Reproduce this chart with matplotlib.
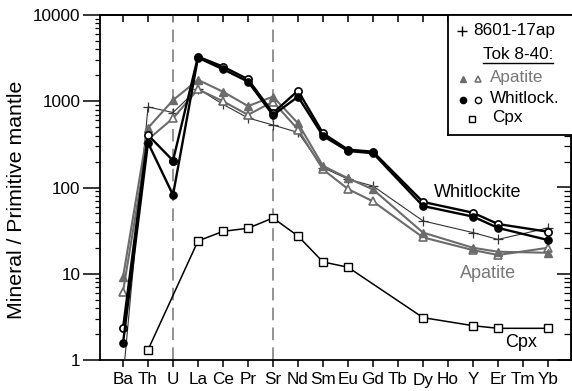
import numpy as np
import matplotlib
matplotlib.use('Agg')
import matplotlib.pyplot as plt
from matplotlib.ticker import FuncFormatter, NullFormatter, LogLocator

plt.rcParams['font.family'] = ['Liberation Sans', 'DejaVu Sans']

nan = np.nan
elements = ['Ba', 'Th', 'U', 'La', 'Ce', 'Pr', 'Sr', 'Nd', 'Sm', 'Eu', 'Gd', 'Tb',
            'Dy', 'Ho', 'Y', 'Er', 'Tm', 'Yb']
s8601_17ap = [0.6, 860, 740, 1400, 920, 640, 530, 435, 170, 125, 104, nan,
              41, nan, 30, 25, nan, 34]
apatite_filled = [9.1, 490, 1030, 1770, 1290, 880, 1130, 555, 178, 128, 95, nan,
                  30, nan, 20, 18, nan, 17.5]
apatite_open = [6.2, 360, 635, 1375, 1000, 695, 990, 470, 162, 96, 69, nan,
                26.4, nan, 18.8, 16.5, nan, 20]
whitlock_filled = [1.56, 330, 82, 3200, 2350, 1690, 690, 1130, 396, 265, 250, nan,
                   61, nan, 46, 34, nan, 24.6]
whitlock_open = [2.33, 406, 205, 3290, 2520, 1800, 730, 1325, 425, 275, 260, nan,
                 68, nan, 51, 37.7, nan, 30.7]
cpx = [nan, 1.31, nan, 24, 31, 33.7, 44.3, 27.4, 13.7, 11.9, nan, nan,
       3.1, nan, 2.5, 2.33, nan, 2.33]
ytick_values = [1, 10, 100, 1000, 10000]
dashed_at = ['U', 'Sr']

W, H = 572, 391
fig = plt.figure(figsize=(W / 100, H / 100), dpi=100)
L, R, T, B = 100, 571, 15, 360
ax = fig.add_axes([L / W, 1 - B / H, (R - L) / W, (B - T) / H])
ax.set_yscale('log')
ax.set_ylim(1, 10000)
ax.set_xlim(-0.92, 17.92)
x = np.arange(len(elements))

GRAY = '#6b6b6b'


def draw(vals, **kw):
    v = np.array(vals, float)
    m = ~np.isnan(v)
    return ax.plot(x[m], v[m], **kw)


for el in dashed_at:
    ax.axvline(elements.index(el), color='#8a8a8a', lw=1.3, dashes=(7, 4), zorder=1)

draw(cpx, color='black', lw=1.1, marker='s', ms=5.2, mfc='white', mec='black', mew=1.0, zorder=3)
draw(s8601_17ap, color='#333333', lw=0.8, marker='+', ms=7, mew=0.9, zorder=4)
draw(apatite_open, color=GRAY, lw=1.5, marker='^', ms=6, mfc='white', mec=GRAY, mew=1.2, zorder=5)
draw(apatite_filled, color=GRAY, lw=1.5, marker='^', ms=5.5, mfc=GRAY, mec=GRAY, zorder=5)
draw(whitlock_open, color='black', lw=1.7, marker='o', ms=5.2, mfc='white', mec='black', mew=1.2, zorder=6)
draw(whitlock_filled, color='black', lw=1.7, marker='o', ms=5.2, mfc='black', mec='black', zorder=6)
iu = elements.index('U')
ax.plot([x[iu]], [whitlock_open[iu]], marker='o', ms=5.2, mfc='black', mec='black', ls='none', zorder=7)

# axes styling
for s in ax.spines.values():
    s.set_linewidth(1.3)
ax.set_xticks(x)
ax.set_xticklabels(elements, fontsize=12.3)
ax.tick_params(axis='x', direction='out', length=5, width=1.1, pad=4)
ax.set_yticks(ytick_values)
ax.yaxis.set_major_formatter(FuncFormatter(lambda v, p: f'{v:g}'))
ax.yaxis.set_minor_locator(LogLocator(base=10, subs=np.arange(2, 10)))
ax.yaxis.set_minor_formatter(NullFormatter())
ax.tick_params(axis='y', which='major', direction='out', length=12, width=1.1, pad=2, labelsize=12.3)
ax.tick_params(axis='y', which='minor', direction='out', length=3.5, width=0.9)

top = ax.secondary_xaxis('top')
top.set_xticks(x)
top.set_xticklabels([''] * len(x))
top.tick_params(direction='in', length=5, width=1.1)
top.spines['top'].set_linewidth(1.3)

right = ax.secondary_yaxis('right')
right.set_yticks(ytick_values)
right.yaxis.set_major_formatter(NullFormatter())
right.yaxis.set_minor_locator(LogLocator(base=10, subs=np.arange(2, 10)))
right.yaxis.set_minor_formatter(NullFormatter())
right.tick_params(which='major', direction='in', length=10, width=1.1)
right.tick_params(which='minor', direction='in', length=5, width=0.9)

fig.text(17 / W, 1 - 200 / H, 'Mineral / Primitive mantle', rotation=90,
         ha='center', va='center', fontsize=15.3)


def ftext(px, py, s, **kw):
    return fig.text(px / W, 1 - py / H, s, **kw)


ftext(434, 197, 'Whitlockite', fontsize=13, ha='left', va='baseline', color='black')
ftext(460, 278, 'Apatite', fontsize=13, ha='left', va='baseline', color='#777777')
ftext(505, 347, 'Cpx', fontsize=13, ha='left', va='baseline', color='black')

# legend box
lx0, lx1, ly0, ly1 = 448, 574, 15, 135
lax = fig.add_axes([lx0 / W, 1 - ly1 / H, (lx1 - lx0) / W, (ly1 - ly0) / H], zorder=10)
lax.set_xlim(lx0, lx1)
lax.set_ylim(ly1, ly0)
lax.set_xticks([])
lax.set_yticks([])
lax.set_facecolor('white')
for s in lax.spines.values():
    s.set_linewidth(1.3)

fs = 12.3
lax.plot([462], [31], marker='+', ms=7, mew=1.0, color='black')
lax.text(473, 35, '8601-17ap', fontsize=fs, va='baseline', ha='left')
tok = lax.text(483, 59, 'Tok 8-40:', fontsize=fs, va='baseline', ha='left')
fig.canvas.draw()
bb = tok.get_window_extent()
inv = lax.transData.inverted()
(ux0, _), (ux1, _) = inv.transform([(bb.x0, bb.y0), (bb.x1, bb.y0)])
lax.plot([ux0, ux1], [62.5, 62.5], color='black', lw=1.0)
lax.plot([463], [79], marker='^', ms=5, color=GRAY, mec=GRAY)
lax.plot([478], [79], marker='^', ms=5, mfc='white', mec=GRAY, mew=1.1)
lax.text(490, 82, 'Apatite', fontsize=fs, va='baseline', ha='left', color='#777777')
lax.plot([463], [100], marker='o', ms=4.5, color='black')
lax.plot([478], [100], marker='o', ms=4.5, mfc='white', mec='black', mew=1.0)
lax.text(490, 103, 'Whitlock.', fontsize=fs, va='baseline', ha='left')
lax.plot([472], [119], marker='s', ms=5, mfc='white', mec='black', mew=1.0)
lax.text(492, 122, 'Cpx', fontsize=fs, va='baseline', ha='left')

fig.savefig('out.png', dpi=100)
